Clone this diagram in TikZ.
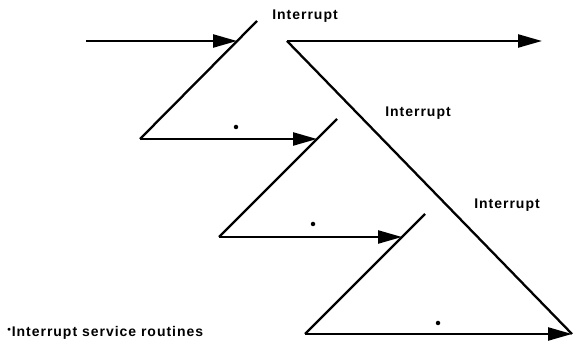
\documentclass[tikz,border=0pt]{standalone}
\usepackage{fontspec}
\setmainfont{Liberation Sans}
\usetikzlibrary{arrows.meta}
\begin{document}
\begin{tikzpicture}[x=1pt,y=-1pt,
  ln/.style={line width=2.3pt, black},
  arr/.style={ln, -{Triangle[length=24pt,width=13pt]}},
  lbl/.style={font=\fontsize{14}{16}\selectfont\bfseries\addfontfeatures{LetterSpace=7}, inner sep=0pt},
  isr/.style={circle, fill=black, inner sep=0pt, minimum size=4.5pt}]
\useasboundingbox (0,0) rectangle (574,344);
% points
\coordinate (s0) at (86,41);
\coordinate (d1t) at (257,21);
\coordinate (d1b) at (140,139);
\coordinate (h1) at (237,41);
\coordinate (d2t) at (337,119);
\coordinate (d2b) at (219,237);
\coordinate (h2) at (317,139);
\coordinate (d3t) at (425,214);
\coordinate (d3b) at (305,334);
\coordinate (h3) at (402,237);
\coordinate (bt) at (287,41);
\coordinate (be) at (572,334);
\coordinate (te) at (542,41);
% lines
\draw[arr] (s0) -- (h1);
\draw[ln] (d1t) -- (d1b);
\draw[arr] (d1b) -- (h2);
\draw[ln] (d2t) -- (d2b);
\draw[arr] (d2b) -- (h3);
\draw[ln] (d3t) -- (d3b);
\draw[arr] (d3b) -- (be);
\draw[arr] (bt) -- (te);
\draw[ln] (bt) -- (be);
% dots
\node[isr] (r1) at (236,127) {};
\node[isr] (r2) at (313,224) {};
\node[isr] (r3) at (438,323) {};
% labels
\node[lbl] (l1) at (305,16) {Interrupt};
\node[lbl] (l2) at (418,113) {Interrupt};
\node[lbl] (l3) at (507,205) {Interrupt};
\node[lbl, anchor=west] (fn) at (7,333) {$^{\scriptscriptstyle\bullet}$Interrupt service routines};
\end{tikzpicture}
\end{document}
